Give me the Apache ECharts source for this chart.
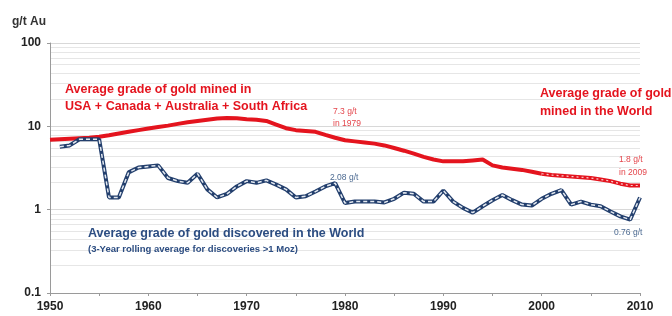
<!DOCTYPE html>
<html>
<head>
<meta charset="utf-8">
<script src="https://cdn.jsdelivr.net/npm/echarts@6/dist/echarts.min.js"></script>
<style>
  html, body { margin: 0; padding: 0; background: #fff; }
  #chart { width: 672px; height: 316px; }
</style>
</head>
<body>
<div id="chart"></div>
<script>
// years 1950..2010
var redYears = [1950,1951,1952,1953,1954,1955,1956,1957,1958,1959,1960,1961,1962,1963,1964,1965,1966,1967,1968,1969,
  1970,1971,1972,1973,1974,1975,1976,1977,1978,1979,1980,1981,1982,1983,1984,1985,1986,1987,1988,1989,
  1990,1991,1992,1993,1994,1995,1996,1997,1998,1999,2000]
// USA + Canada + Australia + South Africa, g/t
var redRegion = [6.9,7.0,7.1,7.2,7.3,7.5,7.8,8.2,8.6,9.0,9.4,9.8,10.2,10.7,11.2,11.6,12.0,12.4,12.6,12.5,
  12.2,12.0,11.6,10.5,9.5,9.0,8.8,8.6,7.9,7.3,6.8,6.6,6.4,6.2,5.9,5.5,5.1,4.7,4.3,4.0,
  3.8,3.8,3.8,3.9,4.0,3.4,3.2,3.1,3.0,2.85,2.7]
// World
var worldYears = [2000,2001,2002,2003,2004,2005,2006,2007,2008,2009,2010]
var redWorld = [2.7,2.6,2.55,2.5,2.45,2.4,2.3,2.2,2.05,1.95,1.95]
// discovered, 3-year rolling average
var blueYears = [1951,1952,1953,1954,1955,1956,1957,1958,1959,1960,1961,1962,1963,1964,1965,1966,1967,1968,1969,
  1970,1971,1972,1973,1974,1975,1976,1977,1978,1979,1980,1981,1982,1983,1984,1985,1986,1987,1988,1989,
  1990,1991,1992,1993,1994,1995,1996,1997,1998,1999,2000,2001,2002,2003,2004,2005,2006,2007,2008,2009,2010]
var blueDisc = [5.7,5.9,7.0,7.0,7.0,1.4,1.4,2.8,3.2,3.3,3.4,2.4,2.2,2.1,2.7,1.75,1.4,1.55,1.9,
  2.2,2.1,2.25,2.0,1.75,1.4,1.45,1.65,1.9,2.08,1.2,1.25,1.25,1.25,1.22,1.35,1.6,1.55,1.25,1.25,
  1.7,1.25,1.05,0.92,1.1,1.3,1.5,1.3,1.15,1.12,1.35,1.55,1.72,1.15,1.25,1.15,1.1,0.95,0.83,0.76,1.4]

function pairs(xs, ys) {
  return xs.map(function (x, i) { return [x, ys[i]] })
}

var RED = '#e4141e'
var NAVY = '#233f6d'
var FONT = 'Liberation Sans'

var myChart = echarts.init(document.getElementById('chart'), null, { renderer: 'canvas' })

var option = {
  animation: false,
  grid: { left: 50, right: 32, top: 43, bottom: 23 },
  xAxis: {
    type: 'value',
    min: 1950, max: 2010, interval: 5,
    axisLine: { lineStyle: { color: '#9a9a9a', width: 1 } },
    axisTick: { show: true, length: 3, lineStyle: { color: '#9a9a9a' } },
    splitLine: { show: false },
    axisLabel: {
      margin: 8, color: '#222', fontFamily: FONT, fontWeight: 'bold', fontSize: 12,
      formatter: function (v) { return v % 10 === 0 ? String(v) : '' }
    }
  },
  yAxis: {
    type: 'log', logBase: 10, min: 0.1, max: 100,
    axisLine: { show: true, lineStyle: { color: '#9a9a9a' } },
    axisTick: { show: true, length: 3, lineStyle: { color: '#9a9a9a' } },
    splitLine: { show: true, lineStyle: { color: '#d8d8d8' } },
    minorSplitLine: { show: true, lineStyle: { color: '#e6e6e6' } },
    minorTick: { show: false, splitNumber: 8 },
    axisLabel: {
      margin: 9, color: '#222', fontFamily: FONT, fontWeight: 'bold', fontSize: 12,
      formatter: function (v) { return v < 1 ? v.toFixed(1) : String(Math.round(v)) }
    }
  },
  series: [
    {
      name: 'USA + Canada + Australia + South Africa', type: 'line',
      data: pairs(redYears, redRegion), showSymbol: false,
      lineStyle: { color: RED, width: 4 }, z: 3
    },
    {
      name: 'World', type: 'line',
      data: pairs(worldYears, redWorld), showSymbol: false,
      lineStyle: { color: RED, width: 4 }, z: 3
    },
    {
      name: 'World dots', type: 'line',
      data: pairs(worldYears, redWorld), showSymbol: false,
      lineStyle: { color: '#f7cfcf', width: 1.2, type: [2, 3] }, z: 4
    },
    {
      name: 'Discovered', type: 'line',
      data: pairs(blueYears, blueDisc), showSymbol: false,
      lineStyle: { color: NAVY, width: 4 }, z: 5
    },
    {
      name: 'Discovered chain', type: 'line',
      data: pairs(blueYears, blueDisc), showSymbol: false,
      lineStyle: { color: '#e3e9f1', width: 1.5, type: [4, 3] }, z: 6
    }
  ],
  graphic: [
    { type: 'text', z: 100, left: 12, top: 16, style: { text: 'g/t Au', fill: '#333', font: 'bold 12px ' + FONT } },
    // red labels
    { type: 'text', z: 100, left: 65, top: 81, style: { text: 'Average grade of gold mined in\nUSA + Canada + Australia + South Africa', fill: RED, font: 'bold 12.5px ' + FONT, lineHeight: 17 } },
    { type: 'text', z: 100, left: 333, top: 106, style: { text: '7.3 g/t\nin 1979', fill: '#e4464c', font: '8.5px ' + FONT, lineHeight: 12 } },
    { type: 'text', z: 100, left: 540, top: 85, style: { text: 'Average grade of gold\nmined in the World', fill: RED, font: 'bold 12.5px ' + FONT, lineHeight: 18 } },
    { type: 'text', z: 100, left: 619, top: 153, style: { text: '1.8 g/t\nin 2009', fill: '#e4464c', font: '8.5px ' + FONT, lineHeight: 13 } },
    // blue labels
    { type: 'text', z: 100, left: 330, top: 173, style: { text: '2.08 g/t', fill: '#4d6b92', font: '8.5px ' + FONT } },
    { type: 'text', z: 100, left: 614, top: 228, style: { text: '0.76 g/t', fill: '#4d6b92', font: '8.5px ' + FONT } },
    { type: 'text', z: 100, left: 88, top: 227, style: { text: 'Average grade of gold discovered in the World', fill: '#2c4d82', font: 'bold 12.5px ' + FONT } },
    { type: 'text', z: 100, left: 88, top: 244, style: { text: '(3-Year rolling average for discoveries >1 Moz)', fill: '#2c4d82', font: 'bold 9.5px ' + FONT } }
  ]
}

myChart.setOption(option)
</script>
</body>
</html>
